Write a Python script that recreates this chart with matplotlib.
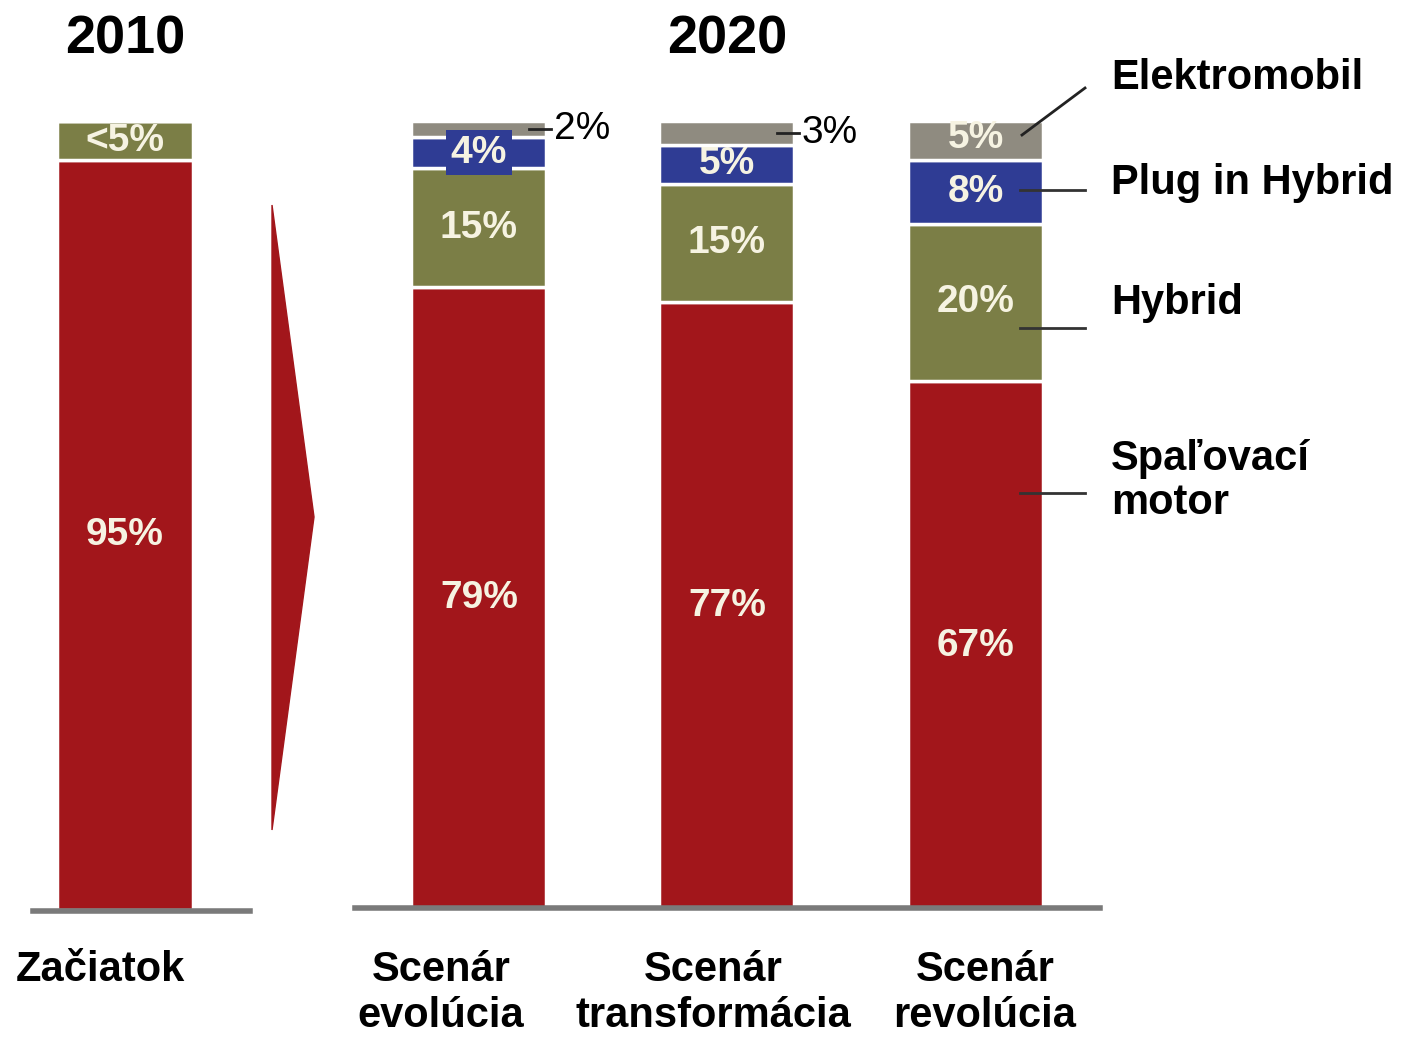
import matplotlib
matplotlib.use("Agg")
import matplotlib.pyplot as plt
from matplotlib.patches import Polygon

plt.rcParams['font.family'] = ['Liberation Sans', 'DejaVu Sans']

# data (share of new cars, %)
scenarios = ['Začiatok', 'Scenár\nevolúcia', 'Scenár\ntransformácia', 'Scenár\nrevolúcia']
spalovaci = [95, 79, 77, 67]
hybrid = [5, 15, 15, 20]
plugin = [0, 4, 5, 8]
elektro = [0, 2, 3, 5]
hybrid_labels = ['<5%', '15%', '15%', '20%']
plugin_labels = ['', '4%', '5%', '8%']
elektro_labels = ['', '2%', '3%', '5%']
series_names = ['Elektromobil', 'Plug in Hybrid', 'Hybrid', 'Spaľovací\nmotor']

red = '#a2161b'
olive = '#7b7e46'
blue = '#2f3c94'
grey = '#8f8b80'
txt = '#f6f3e2'

fig = plt.figure(figsize=(14.02, 10.37), dpi=100)
ax = fig.add_axes([0, 0, 1, 1])

# pixel -> data helpers (layout only)
PPU_X = 248.0
PPU_Y = 7.89
def X(px):
    return (px - 125) / PPU_X
def Y(py):
    return (910 - py) / PPU_Y

ax.set_xlim(X(0), X(1402))
ax.set_ylim(Y(1037), Y(0))
ax.axis('off')

pos = [0, 1.427, 2.427, 3.431]
w = 0.545

bottoms = [0, 0, 0, 0]
for vals, col in [(spalovaci, red), (hybrid, olive), (plugin, blue), (elektro, grey)]:
    ax.bar(pos, vals, width=w, bottom=bottoms, color=col, edgecolor='white', linewidth=2.5, zorder=2)
    bottoms = [b + v for b, v in zip(bottoms, vals)]

# labels inside segments
for i in range(4):
    ax.text(pos[i], spalovaci[i] / 2, f'{spalovaci[i]}%', ha='center', va='center',
            color=txt, fontsize=28, fontweight='bold', zorder=3)
    ax.text(pos[i], spalovaci[i] + hybrid[i] / 2, hybrid_labels[i], ha='center', va='center',
            color=txt, fontsize=28, fontweight='bold', zorder=3)
    if plugin[i]:
        base = spalovaci[i] + hybrid[i]
        kw = {}
        if i == 1:
            kw = dict(bbox=dict(boxstyle='square,pad=0.12', fc=blue, ec='none'))
        ax.text(pos[i], base + plugin[i] / 2, plugin_labels[i], ha='center', va='center',
                color=txt, fontsize=28, fontweight='bold', zorder=3, **kw)

# elektromobil labels: outside for small, inside for revolution
for i in [1, 2]:
    top = 100 - elektro[i] / 2
    ax.plot([pos[i] + w / 2 - 0.07, pos[i] + w / 2 + 0.02], [top, top], color='#222222', lw=2, zorder=3)
    ax.text(pos[i] + w / 2 + 0.03, top, elektro_labels[i], ha='left', va='center',
            color='black', fontsize=28, zorder=3)
ax.text(pos[3], 100 - elektro[3] / 2 + 0.3, elektro_labels[3], ha='center', va='center',
        color=txt, fontsize=28, fontweight='bold', zorder=3)

# baselines
ax.plot([X(33), X(250)], [Y(911), Y(911)], color='#7a7a7a', lw=4, zorder=4)
ax.plot([X(355), X(1100)], [Y(908), Y(908)], color='#7a7a7a', lw=4, zorder=4)

# arrow
ax.add_patch(Polygon([(X(272), Y(205)), (X(314), Y(517)), (X(272), Y(830))],
                     closed=True, color=red, zorder=1))

# years
ax.text(pos[0], Y(40), '2010', ha='center', va='center', fontsize=39, fontweight='bold')
ax.text(pos[2], Y(40), '2020', ha='center', va='center', fontsize=39, fontweight='bold')

# series labels with leaders
leader_y = [None, Y(190), Y(328), Y(493)]
ax.plot([X(1022), X(1085)], [Y(135), Y(88)], color='#222222', lw=2, zorder=3)
for k in [1, 2, 3]:
    ax.plot([X(1020), X(1085)], [leader_y[k], leader_y[k]], color='#333333', lw=2, zorder=3)
label_y = [Y(78), Y(183), Y(303), Y(481)]
for k in range(4):
    ax.text(X(1111), label_y[k], series_names[k], ha='left', va='center',
            fontsize=30, fontweight='bold', linespacing=1.15)

# category labels
cat_x = [X(100), X(441), X(713), X(985)]
for k in range(4):
    ax.text(cat_x[k], Y(950), scenarios[k], ha='center', va='top',
            fontsize=30, fontweight='bold', linespacing=1.2)

fig.savefig('out.png', dpi=100)
